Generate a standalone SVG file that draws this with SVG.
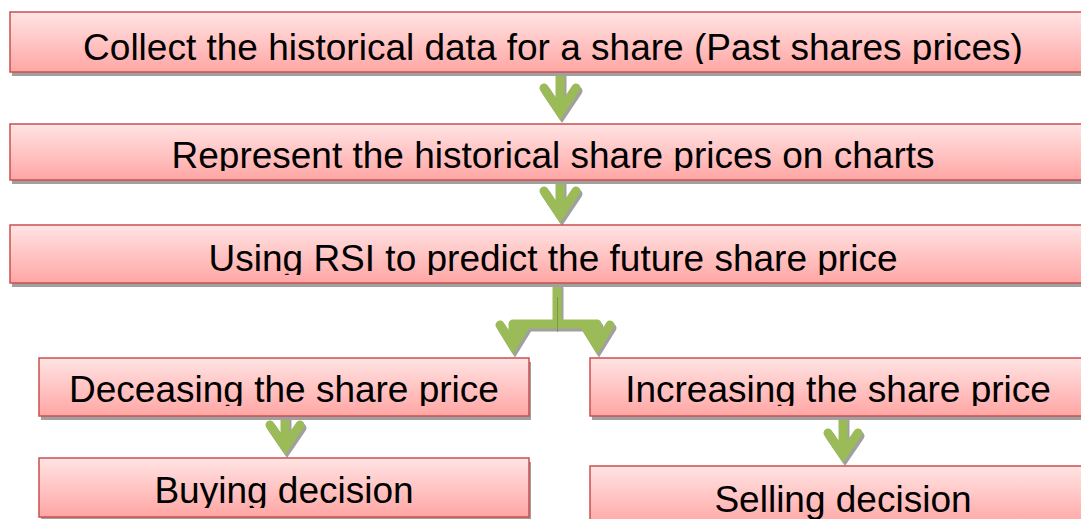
<svg xmlns="http://www.w3.org/2000/svg" width="1081" height="519" viewBox="0 0 1081 519">
  <defs>
    <linearGradient id="boxFill" x1="0" y1="0" x2="0" y2="1">
      <stop offset="0" stop-color="#FFE4E4"/>
      <stop offset="1" stop-color="#FFA6A4"/>
    </linearGradient>
    <!-- text areas: descenders are cut off a few px above each box's lower edge -->
    <clipPath id="c1"><rect x="10" y="12" width="1086" height="52"/></clipPath>
    <clipPath id="c2"><rect x="10" y="124" width="1086" height="47"/></clipPath>
    <clipPath id="c3"><rect x="10" y="225" width="1086" height="50"/></clipPath>
    <clipPath id="c4"><rect x="39" y="358" width="490" height="48"/></clipPath>
    <clipPath id="c5"><rect x="590" y="358" width="496" height="48"/></clipPath>
    <clipPath id="c6"><rect x="39" y="458" width="490" height="50"/></clipPath>
    <clipPath id="c7"><rect x="590" y="466" width="496" height="60"/></clipPath>
    <!-- down arrow with chevron head; origin at top of shaft, tip at y=len -->
  </defs>
  <style>
    .shadow { fill: #A0A0A0; }
    .box { fill: url(#boxFill); stroke: #C9504F; stroke-width: 1.5; }
    .label { font-family: "Liberation Sans", Arial, sans-serif; font-size: 37px; fill: #000; text-anchor: middle; }
    .arrow { fill: none; stroke: #9BBB59; stroke-width: 9; stroke-linecap: round; stroke-linejoin: miter; }
    .arrow-shadow { fill: none; stroke: #A0A0A0; stroke-width: 9; stroke-linecap: round; stroke-linejoin: miter; }
  </style>

  <!-- connectors -->
  <g id="connectors">
    <!-- shadows -->
    <g class="arrow-shadow" transform="translate(2,3)">
      <path d="M560,73 V112 M544,88 L560,112 L576,88"/>
      <path d="M560,182 V215 M544,191 L560,215 L576,191"/>
      <path d="M557,285 V324 M513,324 H597 M513,324 V346 M500,325 L513,346 L526,325 M597,324 V346 M584,325 L597,346 L610,325"/>
      <path d="M285,418 V447 M270,425 L285,447 L300,425"/>
      <path d="M843,418 V455 M828,433 L843,455 L858,433"/>
    </g>
    <g class="arrow">
      <!-- collect -> represent -->
      <path d="M560,73 V112 M544,88 L560,112 L576,88"/>
      <!-- represent -> RSI -->
      <path d="M560,182 V215 M544,191 L560,215 L576,191"/>
      <!-- RSI -> split to both outcomes -->
      <path d="M557,285 V324 M513,324 H597 M513,324 V346 M500,325 L513,346 L526,325 M597,324 V346 M584,325 L597,346 L610,325"/>
      <!-- decreasing -> buying -->
      <path d="M285,418 V447 M270,425 L285,447 L300,425"/>
      <!-- increasing -> selling -->
      <path d="M843,418 V455 M828,433 L843,455 L858,433"/>
    </g>
    <line x1="557.5" y1="297" x2="557.5" y2="332" stroke="#6F8A3C" stroke-width="1" opacity="0.7"/>
  </g>

  <g id="collect">
    <rect class="shadow" x="12" y="16" width="1086" height="60"/>
    <rect class="box" x="10" y="12" width="1086" height="60"/>
    <text class="label" x="553" y="60" clip-path="url(#c1)">Collect the historical data for a share (Past shares prices)</text>
  </g>

  <g id="represent">
    <rect class="shadow" x="12" y="128" width="1086" height="56"/>
    <rect class="box" x="10" y="124" width="1086" height="56"/>
    <text class="label" x="553" y="168" clip-path="url(#c2)">Represent the historical share prices on charts</text>
  </g>

  <g id="rsi">
    <rect class="shadow" x="12" y="229" width="1086" height="58"/>
    <rect class="box" x="10" y="225" width="1086" height="58"/>
    <text class="label" x="553" y="271" clip-path="url(#c3)">Using RSI to predict the future share price</text>
  </g>

  <g id="decreasing">
    <rect class="shadow" x="41" y="362" width="490" height="58"/>
    <rect class="box" x="39" y="358" width="490" height="58"/>
    <text class="label" x="284" y="402" clip-path="url(#c4)">Deceasing the share price</text>
  </g>

  <g id="increasing">
    <rect class="shadow" x="592" y="362" width="496" height="58"/>
    <rect class="box" x="590" y="358" width="496" height="58"/>
    <text class="label" x="838" y="402" clip-path="url(#c5)">Increasing the share price</text>
  </g>

  <g id="buying">
    <rect class="shadow" x="41" y="462" width="490" height="59"/>
    <rect class="box" x="39" y="458" width="490" height="59"/>
    <text class="label" x="284" y="503" clip-path="url(#c6)">Buying decision</text>
  </g>

  <g id="selling">
    <rect class="shadow" x="592" y="470" width="496" height="60"/>
    <rect class="box" x="590" y="466" width="496" height="60"/>
    <text class="label" x="843" y="512" clip-path="url(#c7)">Selling decision</text>
  </g>
</svg>
